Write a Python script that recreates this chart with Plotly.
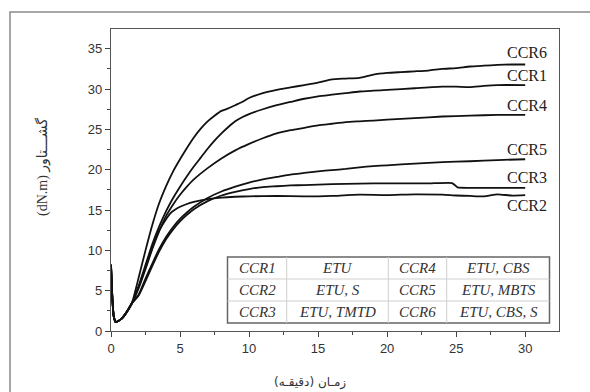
import plotly.graph_objects as go

# ---------------- data ----------------
start_x = [0, 0.1, 0.2, 0.35, 0.5, 0.75, 1, 1.5]
start_y = [8.2, 4.0, 1.8, 1.1, 1.2, 1.5, 2.0, 3.4]

ccr6_x = start_x + [2, 2.5, 3, 3.5, 4, 4.5, 5, 5.5, 6, 6.5, 7, 7.5, 8, 8.5, 9, 9.5, 10, 11, 12, 13, 14, 15, 16, 17, 18, 19, 20, 21, 22, 23, 24, 25, 26, 27, 28, 29, 30]
ccr6_y = start_y + [6.6, 10.0, 13.2, 15.9, 18.0, 19.8, 21.3, 22.7, 24.0, 25.1, 26.0, 26.7, 27.3, 27.6, 28.0, 28.4, 28.9, 29.5, 29.9, 30.2, 30.5, 30.8, 31.2, 31.3, 31.4, 31.8, 32.0, 32.1, 32.2, 32.3, 32.5, 32.6, 32.8, 32.9, 33.0, 33.05, 33.05]

ccr1_x = start_x + [2, 2.5, 3, 3.5, 4, 4.5, 5, 5.5, 6, 6.5, 7, 7.5, 8, 8.5, 9, 9.5, 10, 11, 12, 13, 14, 15, 16, 17, 18, 19, 20, 22, 24, 25, 26, 27, 28, 30]
ccr1_y = start_y + [5.6, 8.2, 10.8, 13.0, 14.9, 16.5, 17.9, 19.2, 20.4, 21.5, 22.6, 23.6, 24.5, 25.3, 26.0, 26.5, 26.9, 27.5, 28.0, 28.4, 28.8, 29.1, 29.3, 29.5, 29.7, 29.8, 29.9, 30.1, 30.3, 30.3, 30.25, 30.4, 30.5, 30.5]

ccr4_x = start_x + [2, 2.5, 3, 3.5, 4, 4.5, 5, 5.5, 6, 7, 8, 9, 10, 11, 12, 13, 14, 15, 16, 17, 18, 19, 20, 22, 24, 26, 28, 30]
ccr4_y = start_y + [5.3, 7.7, 10.2, 12.4, 14.3, 15.7, 16.9, 17.9, 18.8, 20.2, 21.4, 22.4, 23.2, 23.9, 24.5, 24.9, 25.2, 25.5, 25.7, 25.9, 26.0, 26.1, 26.2, 26.4, 26.6, 26.7, 26.8, 26.8]

ccr5_x = start_x + [2, 2.5, 3, 3.5, 4, 4.5, 5, 5.5, 6, 7, 8, 9, 10, 11, 12, 13, 14, 15, 16, 17, 18, 19, 20, 22, 24, 26, 28, 30]
ccr5_y = start_y + [4.5, 6.5, 8.4, 10.2, 11.7, 12.9, 13.9, 14.7, 15.4, 16.5, 17.3, 17.9, 18.4, 18.8, 19.1, 19.4, 19.6, 19.8, 19.95, 20.1, 20.3, 20.45, 20.55, 20.75, 20.95, 21.05, 21.2, 21.3]

ccr3_x = start_x + [2, 2.5, 3, 3.5, 4, 4.5, 5, 5.5, 6, 7, 8, 9, 10, 11, 12, 13, 14, 15, 17, 19, 21, 23, 24.7, 24.9, 25.1, 26, 28, 30]
ccr3_y = start_y + [4.4, 6.2, 8.1, 9.9, 11.4, 12.6, 13.6, 14.4, 15.1, 16.1, 16.8, 17.25, 17.6, 17.85, 17.95, 18.05, 18.1, 18.15, 18.25, 18.3, 18.3, 18.3, 18.35, 18.1, 17.8, 17.75, 17.75, 17.75]

ccr2_x = start_x + [2, 2.5, 3, 3.5, 4, 4.3, 4.6, 5, 5.5, 6, 7, 8, 9, 10, 12, 14, 15, 16, 18, 20, 22, 24, 25, 26, 27, 28, 29, 30]
ccr2_y = start_y + [5.4, 7.9, 10.4, 12.5, 13.9, 14.6, 15.0, 15.4, 15.75, 16.0, 16.35, 16.55, 16.65, 16.7, 16.75, 16.7, 16.7, 16.75, 16.9, 16.85, 16.95, 16.9, 16.8, 16.75, 16.7, 16.95, 16.8, 16.85]

series_names = ["CCR6", "CCR1", "CCR4", "CCR5", "CCR3", "CCR2"]
series_x = [ccr6_x, ccr1_x, ccr4_x, ccr5_x, ccr3_x, ccr2_x]
series_y = [ccr6_y, ccr1_y, ccr4_y, ccr5_y, ccr3_y, ccr2_y]

x_ticks = [0, 5, 10, 15, 20, 25, 30]
y_ticks = [0, 5, 10, 15, 20, 25, 30, 35]

table_rows = [
    ["CCR1", "ETU", "CCR4", "ETU, CBS"],
    ["CCR2", "ETU, S", "CCR5", "ETU, MBTS"],
    ["CCR3", "ETU, TMTD", "CCR6", "ETU, CBS, S"],
]

x_title = "زمـان (دقیقـه)"
y_title = "(dN.m) گشـــتاور"

# ---------------- style / layout constants ----------------
label_offset = {"CCR6": 1.45, "CCR1": 1.15, "CCR4": 1.2, "CCR5": 1.2, "CCR3": 1.25, "CCR2": -1.25}
W, H = 590, 392
ML, MR, MT, MB = 111, 31, 29, 61
PW, PH = W - ML - MR, H - MT - MB


def px(x):
    return (x - ML) / PW


def py(y):
    return (H - MB - y) / PH


fig = go.Figure()
for name, xs, ys in zip(series_names, series_x, series_y):
    fig.add_trace(go.Scatter(x=xs, y=ys, mode="lines", name=name, showlegend=False,
                             line=dict(color="#111111", width=1.8, shape="spline", smoothing=0.5)))
    fig.add_annotation(x=xs[-1] + 0.1, y=ys[-1] + label_offset[name], text=name, showarrow=False,
                       xanchor="center", yanchor="middle",
                       font=dict(family="Liberation Serif, Times New Roman, serif", size=16, color="#222"))

shapes = []
# outer frame
shapes.append(dict(type="rect", xref="paper", yref="paper", x0=px(10), x1=px(620), y0=py(12), y1=py(420),
                   line=dict(color="#8a8a8a", width=1.5), fillcolor="rgba(0,0,0,0)", layer="below"))
# table
col_edges = [227.5, 286.7, 388.3, 446.7, 549.5]
row_edges = [257, 279, 301, 323]
shapes.append(dict(type="rect", xref="paper", yref="paper", x0=px(col_edges[0]), x1=px(col_edges[-1]),
                   y0=py(row_edges[-1]), y1=py(row_edges[0]), line=dict(color="#666", width=1.5),
                   fillcolor="white"))
for cx in col_edges[1:-1]:
    shapes.append(dict(type="line", xref="paper", yref="paper", x0=px(cx), x1=px(cx),
                       y0=py(row_edges[-1]), y1=py(row_edges[0]), line=dict(color="#cfcfcf", width=1)))
for ry in row_edges[1:-1]:
    shapes.append(dict(type="line", xref="paper", yref="paper", x0=px(col_edges[0]), x1=px(col_edges[-1]),
                       y0=py(ry), y1=py(ry), line=dict(color="#cfcfcf", width=1)))
for r, row in enumerate(table_rows):
    for c, cell in enumerate(row):
        fig.add_annotation(xref="paper", yref="paper",
                           x=px((col_edges[c] + col_edges[c + 1]) / 2),
                           y=py((row_edges[r] + row_edges[r + 1]) / 2),
                           text="<i>" + cell + "</i>", showarrow=False, xanchor="center", yanchor="middle",
                           font=dict(family="Liberation Serif, Times New Roman, serif", size=15, color="#333"))

# axis titles
fig.add_annotation(xref="paper", yref="paper", x=px(310), y=py(382), text=x_title, showarrow=False,
                   xanchor="center", yanchor="middle", font=dict(family="DejaVu Sans", size=12, color="#333"))
fig.add_annotation(xref="paper", yref="paper", x=px(42), y=py(167), text=y_title, showarrow=False,
                   textangle=-90, xanchor="center", yanchor="middle",
                   font=dict(family="Liberation Serif, DejaVu Sans", size=14, color="#333"))

axis_common = dict(showline=True, linecolor="#555", linewidth=1.4, mirror=True, showgrid=False, zeroline=False,
                   ticks="outside", ticklen=5, tickwidth=1.3, tickcolor="#444",
                   tickfont=dict(family="Liberation Sans, Arial", size=13, color="#333"))
fig.update_layout(
    width=W, height=H, margin=dict(l=ML, r=MR, t=MT, b=MB),
    paper_bgcolor="white", plot_bgcolor="white", shapes=shapes,
    xaxis=dict(range=[0, 32.45], tickvals=x_ticks,
               minor=dict(tickvals=[v + 2.5 for v in x_ticks], ticks="outside", ticklen=3, tickcolor="#444", showgrid=False),
               **axis_common),
    yaxis=dict(range=[0, 37.45], tickvals=y_ticks,
               minor=dict(tickvals=[v + 2.5 for v in y_ticks], ticks="outside", ticklen=3, tickcolor="#444", showgrid=False),
               **axis_common),
)
fig.write_html("out.html")
